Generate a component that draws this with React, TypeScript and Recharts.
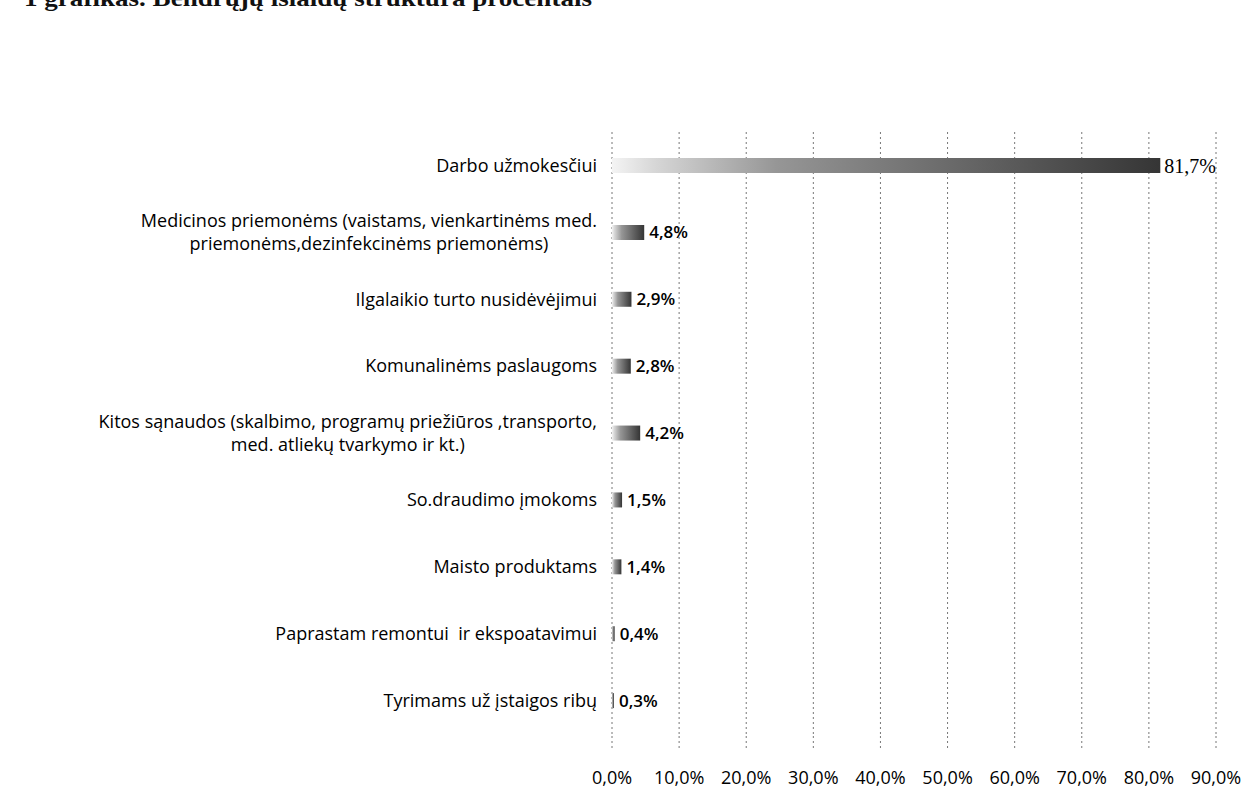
import React from "react";
import { BarChart, Bar, XAxis, YAxis, CartesianGrid, LabelList } from "recharts";

const categories: string[] = [
  "Darbo užmokesčiui",
  "Medicinos priemonėms (vaistams, vienkartinėms med.\npriemonėms,dezinfekcinėms priemonėms)",
  "Ilgalaikio turto nusidėvėjimui",
  "Komunalinėms paslaugoms",
  "Kitos sąnaudos (skalbimo, programų priežiūros ,transporto,\nmed. atliekų tvarkymo ir kt.)",
  "So.draudimo įmokoms",
  "Maisto produktams",
  "Paprastam remontui  ir ekspoatavimui",
  "Tyrimams už įstaigos ribų",
];

const values: number[] = [81.7, 4.8, 2.9, 2.8, 4.2, 1.5, 1.4, 0.4, 0.3];

const xTicks: number[] = [0, 10, 20, 30, 40, 50, 60, 70, 80, 90];

const title = "1 grafikas. Bendrųjų išlaidų struktūra procentais";

const data = categories.map((c, i) => ({ name: c, value: values[i] }));

const fmt = (v: number) => v.toFixed(1).replace(".", ",") + "%";

const LABEL_FONT = '18px "Open Sans"';
let ctx: CanvasRenderingContext2D | null = null;
const measure = (s: string, font: string) => {
  if (!ctx) {
    const c = document.createElement("canvas");
    ctx = c.getContext("2d");
  }
  if (!ctx) return s.length * 9;
  ctx.font = font;
  return ctx.measureText(s).width;
};

const CategoryTick = (props: any) => {
  const { x, y, payload } = props;
  const lines: string[] = String(payload.value).split("\n");
  const maxW = Math.max(...lines.map((l) => measure(l, LABEL_FONT)));
  const right = x - 15;
  const cx = right - maxW / 2;
  const lh = 23;
  const y0 = y - ((lines.length - 1) * lh) / 2;
  return (
    <g>
      {lines.map((l, i) => (
        <text
          key={i}
          x={cx}
          y={y0 + i * lh}
          dy="0.35em"
          textAnchor="middle"
          fontFamily='"Open Sans"'
          fontSize={18}
          fill="#000"
          style={{ whiteSpace: "pre" }}
        >
          {l}
        </text>
      ))}
    </g>
  );
};

const ValueLabel = (props: any) => {
  const { x, y, width, height, value, index } = props;
  const first = index === 0;
  return (
    <text
      x={x + width + (first ? 4 : 5)}
      y={y + height / 2}
      dy="0.35em"
      textAnchor="start"
      fontFamily={first ? '"Liberation Serif"' : '"Open Sans"'}
      fontSize={first ? 20 : 17}
      fontWeight={first ? 400 : 600}
      fill="#000"
    >
      {fmt(value)}
    </text>
  );
};

export default function App() {
  return (
    <div
      style={{
        position: "absolute",
        left: 0,
        top: 0,
        width: 1244,
        height: 792,
        background: "#fff",
        overflow: "hidden",
      }}
    >
      <svg
        width={1244}
        height={20}
        style={{ position: "absolute", left: 0, top: 0 }}
      >
        <text
          x={24}
          y={6}
          fontFamily='"Liberation Serif"'
          fontWeight={700}
          fontSize={24}
          fill="#111"
          textLength={568}
          lengthAdjust="spacingAndGlyphs"
        >
          {title}
        </text>
      </svg>
      <BarChart
        width={1244}
        height={792}
        data={data}
        layout="vertical"
        margin={{ top: 132, right: 28, bottom: 0, left: 0 }}
        barCategoryGap={0}
      >
        <defs>
          <linearGradient id="barGrad" x1="0" y1="0" x2="1" y2="0">
            <stop offset="0" stopColor="#f4f4f4" />
            <stop offset="0.08" stopColor="#d6d6d6" />
            <stop offset="0.3" stopColor="#969696" />
            <stop offset="1" stopColor="#353535" />
          </linearGradient>
        </defs>
        <CartesianGrid
          horizontal={false}
          vertical={true}
          stroke="#777"
          strokeDasharray="2 3"
        />
        <XAxis
          type="number"
          domain={[0, 90]}
          ticks={xTicks}
          interval={0}
          tickFormatter={fmt}
          axisLine={false}
          tickLine={{ stroke: "#777", strokeDasharray: "2 3" }}
          tickSize={14}
          tickMargin={23}
          height={58}
          tick={{ fontFamily: '"Open Sans"', fontSize: 18, fill: "#000" }}
        />
        <YAxis
          type="category"
          dataKey="name"
          width={612}
          axisLine={false}
          tickLine={false}
          tickSize={0}
          tickMargin={0}
          interval={0}
          tick={<CategoryTick />}
        />
        <Bar
          dataKey="value"
          barSize={15}
          fill="url(#barGrad)"
          isAnimationActive={false}
        >
          <LabelList dataKey="value" content={<ValueLabel />} />
        </Bar>
      </BarChart>
    </div>
  );
}
